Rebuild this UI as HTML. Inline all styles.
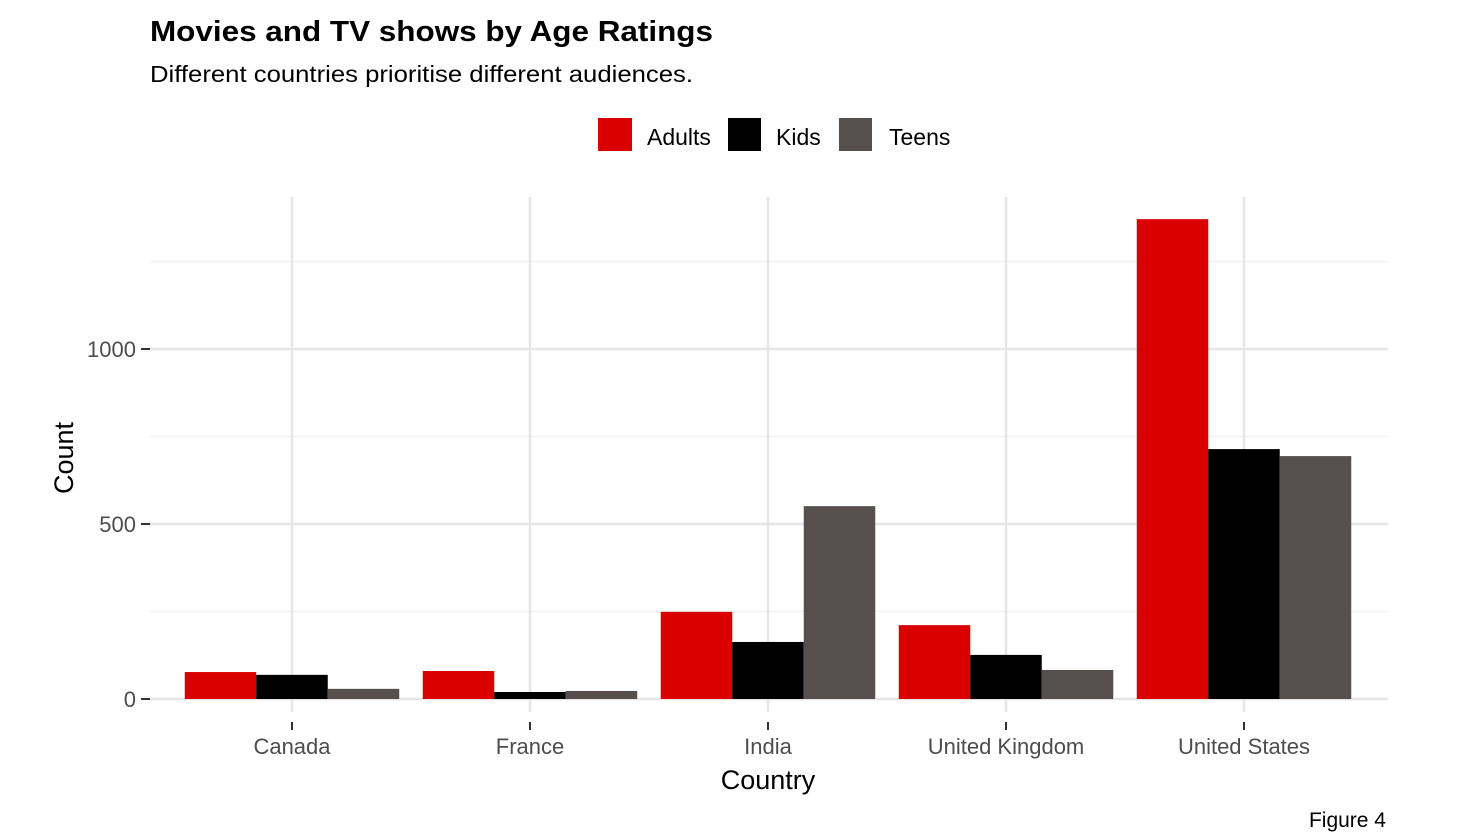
<!DOCTYPE html>
<html><head><meta charset="utf-8"><style>
body{margin:0;background:#fff;font-family:"Liberation Sans",sans-serif}
svg{display:block}
</style></head><body>
<svg id="chart" width="1461" height="835" xmlns="http://www.w3.org/2000/svg">
<text x="150" y="41" font-size="29" font-weight="bold" fill="#000" textLength="563" lengthAdjust="spacingAndGlyphs">Movies and TV shows by Age Ratings</text>
<text x="150" y="82" font-size="23" fill="#000" textLength="543" lengthAdjust="spacingAndGlyphs">Different countries prioritise different audiences.</text>
<g>
<rect x="598" y="118" width="34" height="33" fill="#db0000"/>
<text x="647" y="145" font-size="23">Adults</text>
<rect x="728" y="118" width="33" height="33" fill="#000"/>
<text x="776" y="145" font-size="23">Kids</text>
<rect x="839" y="118" width="33" height="33" fill="#574f4d"/>
<text x="889" y="145" font-size="23">Teens</text>
</g>
<g id="grid"></g><g id="bars"></g><g id="axes"></g>
<text x="768" y="789" font-size="27" text-anchor="middle">Country</text>
<text transform="translate(73,458) rotate(-90)" font-size="27" text-anchor="middle">Count</text>
<text x="1386" y="827" font-size="21" text-anchor="end">Figure 4</text>
</svg>
<script>
const categories=["Canada","France","India","United Kingdom","United States"];
const adults=[77,80,249,211,1371];
const kids=[69,20,163,126,714];
const teens=[29,23,551,83,694];
const yTicks=[0,500,1000];
const yMinor=[250,750,1250];
const seriesNames=["adults","kids","teens"];
const series=[adults,kids,teens];
const colors=["#db0000","#000000","#574f4d"];
const NS="http://www.w3.org/2000/svg";
const panelLeft=150,panelRight=1388,panelTop=197;
const yScale=v=>699-v*0.35;
const band=238;
const xc=i=>292+i*band;
const bw=71.5;
function mk(tag,attrs,parent){const e=document.createElementNS(NS,tag);for(const k in attrs)e.setAttribute(k,attrs[k]);parent.appendChild(e);return e;}
const grid=document.getElementById('grid'),bars=document.getElementById('bars'),axes=document.getElementById('axes');
yMinor.forEach(v=>{const l=mk('line',{x1:panelLeft,x2:panelRight,y1:yScale(v),y2:yScale(v),stroke:'#f1f1f1','stroke-width':1.5},grid);

});
yTicks.forEach(v=>{const l=mk('line',{x1:panelLeft,x2:panelRight,y1:yScale(v),y2:yScale(v),stroke:'#e6e6e6','stroke-width':2.5},grid);


const t=mk('line',{x1:141,x2:150,y1:yScale(v),y2:yScale(v),stroke:'#333','stroke-width':2},axes);


const tx=mk('text',{x:136,y:yScale(v)+8,'font-size':22,'text-anchor':'end',fill:'#4d4d4d'},axes);tx.textContent=v;

});
categories.forEach((c,i)=>{const l=mk('line',{x1:xc(i),x2:xc(i),y1:panelTop,y2:712,stroke:'#e6e6e6','stroke-width':2.5},grid);


series.forEach((s,j)=>{const x0=xc(i)-1.5*bw+j*bw;const r=mk('rect',{x:x0,y:yScale(s[i]),width:bw,height:yScale(0)-yScale(s[i]),fill:colors[j]},bars);

});
const t=mk('line',{x1:xc(i),x2:xc(i),y1:722,y2:730,stroke:'#333','stroke-width':2},axes);


const tx=mk('text',{x:xc(i),y:754,'font-size':22,'text-anchor':'middle',fill:'#4d4d4d'},axes);tx.textContent=c;

});
</script>
</body></html>
